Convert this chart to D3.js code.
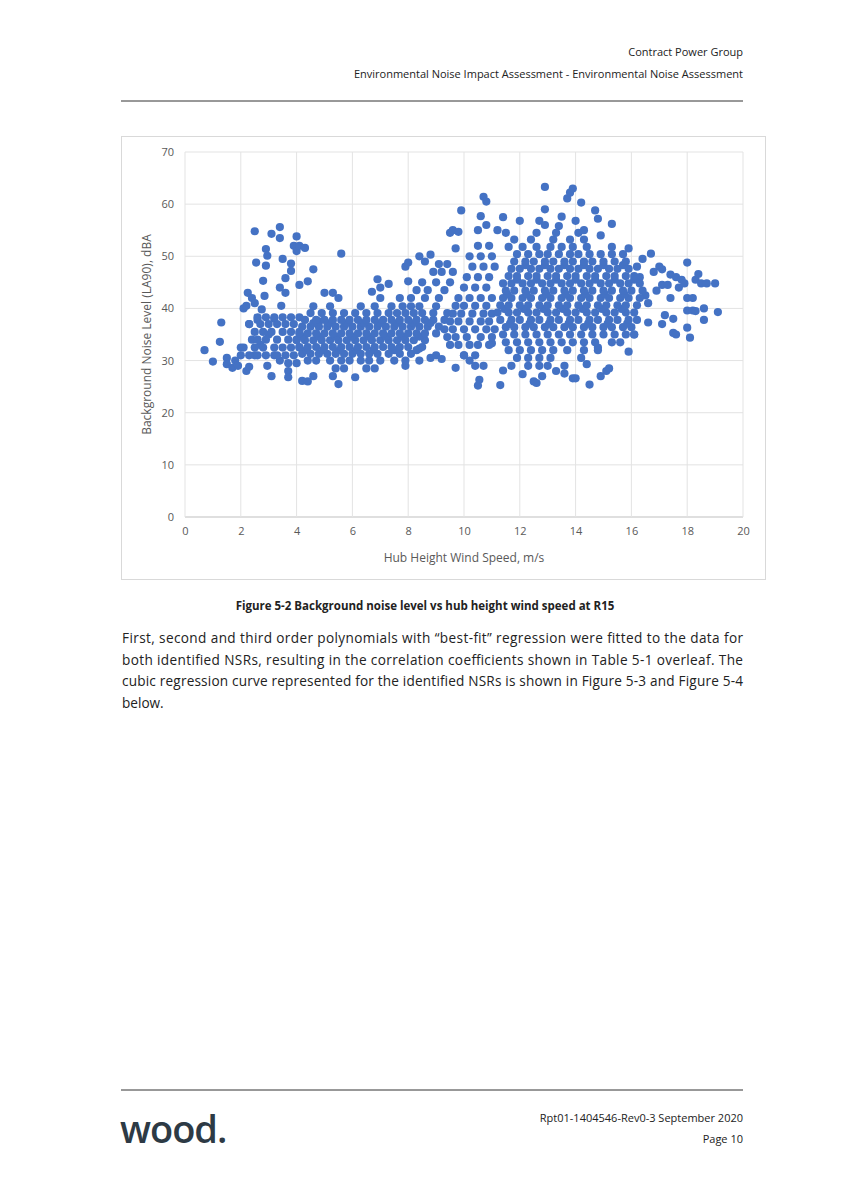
<!DOCTYPE html>
<html><head><meta charset="utf-8">
<script src="https://cdn.jsdelivr.net/npm/d3@7"></script>
<style>
body{margin:0;background:#fff;font-family:"Open Sans",sans-serif;}
</style></head>
<body><svg id="page" width="844" height="1193"></svg>
<script>
// Scattered points [wind m/s, dBA]
const outliers = [[0.7,32],[1.0,29.8],[1.3,37.3],[1.25,33.6],[1.5,30.5],[1.5,29.3],[1.7,28.6],[1.8,30],[1.9,29],[2.0,31],[2.0,32.5],[2.1,40],[2.2,40.5],[2.25,43],[2.3,37],[2.2,28],[2.3,28.8],[2.4,34],[2.4,42],[2.5,54.8],[2.5,41],[2.55,48.8],[2.5,31],[2.6,37.8],[2.7,33],[2.75,39.8],[2.8,45.3],[2.85,42.4],[2.9,48.2],[2.9,51.4],[2.95,50.1],[2.95,29],[3.1,54.3],[3.1,27],[3.0,35],[3.2,38],[3.2,31],[3.4,55.6],[3.4,53.5],[3.4,44],[3.45,40.5],[3.5,49.5],[3.4,30],[3.6,45.8],[3.6,43],[3.7,28],[3.7,26.8],[3.8,48.6],[3.8,47.2],[3.9,52],[4.0,53.8],[4.0,51],[4.1,52],[4.1,44.5],[4.3,51.6],[4.4,45.2],[4.6,47.5],[4.2,26.1],[4.4,26],[4.6,27],[4.8,37.5],[5.0,43],[5.3,43],[5.5,42],[5.6,50.5],[5.5,25.5],[5.3,27],[6.1,26.8],[6.7,43.2],[6.9,45.6],[7.0,44],[7.3,44.7],[7.9,48],[8.0,48.8],[8.0,45.2],[7.9,29],[8.4,50],[8.6,49],[8.8,50.3],[8.4,30],[8.4,32.3],[8.8,30.5],[9.0,31],[9.2,30.3],[9.5,54.5],[9.6,55],[9.7,51.5],[9.8,54.7],[9.9,58.8],[9.7,28.6],[10.0,31],[10.2,30],[10.4,29],[10.5,25.2],[10.55,26.3],[10.6,57.7],[10.5,55],[10.7,61.4],[10.8,60.5],[10.8,56],[10.7,29],[11.0,33.3],[11.3,25.3],[11.4,28.1],[11.4,57.5],[11.2,55],[11.7,29],[12.0,56.8],[12.1,27.4],[12.5,26],[12.6,25.7],[12.8,27],[12.7,56.8],[12.9,63.3],[12.9,59],[12.9,56],[13.4,55.8],[13.5,57.6],[13.3,28],[13.6,27.5],[13.7,61.1],[13.8,62.2],[13.9,63],[13.9,26.6],[14.0,56.8],[14.0,26.6],[14.2,60.3],[14.3,55],[14.4,29.3],[14.5,25.4],[14.7,58.8],[14.8,57.2],[14.8,32.5],[14.9,54],[14.9,27],[15.1,28],[15.2,28.5],[15.3,56.2],[15.9,31.7],[16.1,35],[16.4,49.5],[16.5,42.5],[16.6,37.3],[16.6,41],[16.7,50.5],[16.8,47],[16.9,43.4],[17.0,48],[17.1,47.5],[17.1,44.5],[17.1,37],[17.2,38.7],[17.3,44.5],[17.4,46.5],[17.4,42],[17.5,35.3],[17.5,38],[17.6,46],[17.6,35],[17.7,44],[17.8,45.5],[17.9,44.8],[18.0,48.8],[18.0,42],[18.0,39.6],[18.0,36.3],[18.1,34.4],[18.2,42],[18.2,39.6],[18.3,45.5],[18.4,46.6],[18.3,39.5],[18.5,44.8],[18.6,40],[18.6,37.8],[18.7,44.8],[19.0,44.8],[19.1,39.3],[16.2,48],[16.3,46],[15.9,51.5]];

// Dense clusters read as rows: [dBA, [wind speeds...]]
const clusterRows = [
  [31,[2.3,2.6,2.9,3.3,3.6,3.9]],
  [32.5,[2.1,2.5,2.8,3.2,3.5,3.8,4.1]],
  [34,[2.6,2.9,3.3,3.7,4.0]],
  [35.5,[2.5,2.8,3.1,3.5,3.8,4.1]],
  [37,[2.3,2.7,3.0,3.3,3.6,3.9]],
  [38.3,[2.6,2.9,3.2,3.5,3.8,4.1]],
  [29.5,[3.7,4.0]],
  [28.5,[5.4,5.7,6.5,6.8]],
  [30,[4.4,4.7,5.2,5.6,5.9,6.3,6.6,7.0,7.5,7.9]],
  [31.3,[4.2,4.5,4.8,5.1,5.4,5.7,6.0,6.3,6.6,6.9,7.3,7.7,8.1]],
  [32,[4.35,4.95,5.55,6.15,6.75,7.5,8.3]],
  [32.6,[4.1,4.4,4.7,5.0,5.3,5.6,5.9,6.2,6.5,6.8,7.1,7.4,7.7,8.0,8.5]],
  [33.9,[4.0,4.3,4.6,4.9,5.2,5.5,5.8,6.1,6.4,6.7,7.0,7.3,7.6,7.9,8.2,8.6]],
  [34.6,[4.2,4.8,5.4,6.0,6.6,7.2,7.8,8.4]],
  [35.2,[4.1,4.4,4.7,5.0,5.3,5.6,5.9,6.2,6.5,6.8,7.1,7.4,7.7,8.0,8.3,8.6,9.0]],
  [36.5,[4.2,4.5,4.8,5.1,5.4,5.7,6.0,6.3,6.6,6.9,7.2,7.5,7.8,8.1,8.4,8.7,9.1]],
  [37.2,[4.6,5.2,5.8,6.4,7.0,7.6,8.2,8.8]],
  [37.8,[4.3,4.7,5.0,5.3,5.6,5.9,6.2,6.5,6.8,7.1,7.4,7.7,8.0,8.3,8.6,8.9,9.3]],
  [39.1,[4.5,4.9,5.3,5.7,6.1,6.5,6.9,7.3,7.6,7.9,8.2,8.5,8.9,9.4]],
  [40.4,[4.6,5.2,6.3,6.8,7.4,7.8,8.1,8.4,9.0]],
  [42,[7.0,7.7,8.1,8.6,9.1]],
  [43.5,[8.3,8.7,9.3]],
  [45,[8.5,9.0,9.5]],
  [47,[8.9,9.2,9.6]],
  [48.5,[9.1,9.4]],
  [33,[9.5,9.8,10.2,10.5,10.9]],
  [34.5,[9.4,9.7,10.1,10.6,11.0]],
  [36,[9.3,9.6,10.0,10.4,10.8,11.1]],
  [37.5,[9.5,9.8,10.2,10.6,10.9]],
  [39,[9.6,9.9,10.3,10.7,11.0]],
  [40.5,[9.7,10.0,10.4,10.8]],
  [42,[9.8,10.2,10.6,11.0]],
  [44,[10.0,10.4,10.8]],
  [46,[10.1,10.5,10.9]],
  [48,[10.3,10.7,11.1]],
  [50,[10.2,10.6,11.0]],
  [52,[10.5,10.9]],
  [31,[10.0,10.4]],
  [29,[12.3,12.7,13.0,13.6]],
  [30.5,[11.9,12.3,12.7,13.1,14.2]],
  [32,[11.6,12.0,12.4,12.8,13.2,13.7,14.3,14.8]],
  [33.5,[11.5,11.9,12.3,12.7,13.1,13.5,13.9,14.3,14.7,15.3,15.6]],
  [35,[11.4,11.8,12.2,12.6,13.0,13.4,13.8,14.2,14.6,15.0,15.4,15.8,16.1]],
  [36.4,[11.5,11.8,12.2,12.5,12.9,13.2,13.6,13.9,14.3,14.6,15.0,15.3,15.7,16.0]],
  [37.1,[11.65,12.35,13.05,13.75,14.45,15.15,15.85]],
  [37.8,[11.3,11.7,12.0,12.4,12.7,13.1,13.4,13.8,14.1,14.5,14.8,15.2,15.5,15.9,16.2]],
  [39.2,[11.2,11.6,11.9,12.3,12.6,13.0,13.3,13.7,14.0,14.4,14.7,15.1,15.4,15.8,16.1]],
  [39.9,[11.45,12.15,12.85,13.55,14.25,14.95,15.65]],
  [40.6,[11.3,11.6,12.0,12.3,12.7,13.0,13.4,13.7,14.1,14.4,14.8,15.1,15.5,15.8,16.2]],
  [42,[11.4,11.7,12.1,12.4,12.8,13.1,13.5,13.8,14.2,14.5,14.9,15.2,15.6,15.9,16.3]],
  [42.7,[11.55,12.25,12.95,13.65,14.35,15.05,15.75]],
  [43.4,[11.5,11.8,12.2,12.5,12.9,13.2,13.6,13.9,14.3,14.6,15.0,15.3,15.7,16.0,16.4]],
  [44.8,[11.4,11.7,12.1,12.4,12.8,13.1,13.5,13.8,14.2,14.5,14.9,15.2,15.6,15.9,16.3]],
  [45.5,[11.9,12.6,13.3,14.0,14.7,15.4,16.1]],
  [46.2,[11.6,11.9,12.3,12.6,13.0,13.3,13.7,14.0,14.4,14.7,15.1,15.4,15.8,16.1]],
  [47.6,[11.7,12.0,12.4,12.7,13.1,13.4,13.8,14.1,14.5,14.8,15.2,15.5,15.9]],
  [48.3,[12.2,12.9,13.6,14.3,15.0,15.7]],
  [49,[11.8,12.2,12.5,12.9,13.2,13.6,13.9,14.3,14.6,15.0,15.4,15.8]],
  [50.4,[11.9,12.3,12.7,13.0,13.4,13.8,14.1,14.5,14.9,15.3,15.7]],
  [51.8,[11.6,12.1,12.6,13.1,13.5,13.9,14.4,15.3]],
  [53.2,[11.8,12.4,13.2,13.8,14.3]],
  [54.5,[11.5,12.6,13.3,14.1]]
];

const xTicks = [0,2,4,6,8,10,12,14,16,18,20];
const yTicks = [0,10,20,30,40,50,60,70];

const headerLines = ["Contract Power Group","Environmental Noise Impact Assessment - Environmental Noise Assessment"];
const caption = "Figure 5-2 Background noise level vs hub height wind speed at R15";
const paragraph = [
  "First, second and third order polynomials with “best-fit” regression were fitted to the data for",
  "both identified NSRs, resulting in the correlation coefficients shown in Table 5-1 overleaf. The",
  "cubic regression curve represented for the identified NSRs is shown in Figure 5-3 and Figure 5-4",
  "below."
];
const footerLines = ["Rpt01-1404546-Rev0-3 September 2020","Page 10"];

const points = outliers.concat(clusterRows.flatMap(([y, xs]) => xs.map(x => [x, y])));

const svg = d3.select("#page");
const textCol = "#222";

// header
svg.selectAll(".hdr").data(headerLines).join("text")
  .attr("x", 743).attr("y", (d, i) => 56 + i * 22)
  .attr("text-anchor", "end").attr("font-size", 11).attr("fill", textCol).text(d => d);
svg.append("line").attr("x1", 121).attr("x2", 743).attr("y1", 101).attr("y2", 101).attr("stroke", "#333");

// chart frame
svg.append("rect").attr("x", 121.5).attr("y", 136.5).attr("width", 644).attr("height", 443)
  .attr("fill", "#fff").attr("stroke", "#d9d9d9");

const x = d3.scaleLinear().domain([0, 20]).range([185, 743]);
const y = d3.scaleLinear().domain([0, 70]).range([517, 152]);

const g = svg.append("g");
g.selectAll(".gy").data(yTicks).join("line")
  .attr("x1", x(0)).attr("x2", x(20)).attr("y1", d => y(d)).attr("y2", d => y(d))
  .attr("stroke", d => d === 0 ? "#bfbfbf" : "#e3e3e3");
g.selectAll(".gx").data(xTicks).join("line")
  .attr("y1", y(0)).attr("y2", y(70)).attr("x1", d => x(d)).attr("x2", d => x(d))
  .attr("stroke", "#e3e3e3");

g.append("g").attr("transform", `translate(0,${y(0)})`)
  .call(d3.axisBottom(x).tickValues(xTicks).tickSize(0).tickPadding(10))
  .call(a => a.select(".domain").remove())
  .selectAll("text").attr("font-size", 11).attr("fill", "#595959").attr("font-family", "Open Sans");
g.append("g").attr("transform", `translate(${x(0)},0)`)
  .call(d3.axisLeft(y).tickValues(yTicks).tickSize(0).tickPadding(11))
  .call(a => a.select(".domain").remove())
  .selectAll("text").attr("font-size", 11).attr("fill", "#595959").attr("font-family", "Open Sans");

g.append("text").attr("x", x(10)).attr("y", 562).attr("text-anchor", "middle")
  .attr("font-size", 12).attr("fill", "#595959").text("Hub Height Wind Speed, m/s");
g.append("text").attr("transform", `translate(151,${y(35)}) rotate(-90)`).attr("text-anchor", "middle")
  .attr("font-size", 12).attr("fill", "#595959").text("Background Noise Level (LA90), dBA");

g.append("g").selectAll("circle").data(points).join("circle")
  .attr("cx", d => x(d[0])).attr("cy", d => y(d[1])).attr("r", 4.1)
  .attr("fill", "#4472c4");

// caption and text
svg.append("text").attr("x", 425).attr("y", 610).attr("text-anchor", "middle")
  .attr("font-size", 11.5).attr("font-weight", "bold").attr("fill", textCol).text(caption);
svg.selectAll(".para").data(paragraph).join("text")
  .attr("x", 122).attr("y", (d, i) => 643 + i * 21.5)
  .attr("font-size", 13.6).attr("fill", textCol)
  .attr("textLength", (d, i) => i < 3 ? 621 : null).attr("lengthAdjust", "spacing")
  .text(d => d);

// footer
svg.append("line").attr("x1", 121).attr("x2", 743).attr("y1", 1090).attr("y2", 1090).attr("stroke", "#333");
svg.append("text").attr("x", 120).attr("y", 1143).attr("font-size", 38).attr("font-weight", 600)
  .attr("fill", "#2d3a45").attr("letter-spacing", -1).text("wood.");
svg.selectAll(".ftr").data(footerLines).join("text")
  .attr("x", 743).attr("y", (d, i) => 1122 + i * 21)
  .attr("text-anchor", "end").attr("font-size", 11).attr("fill", textCol).text(d => d);
</script></body></html>
